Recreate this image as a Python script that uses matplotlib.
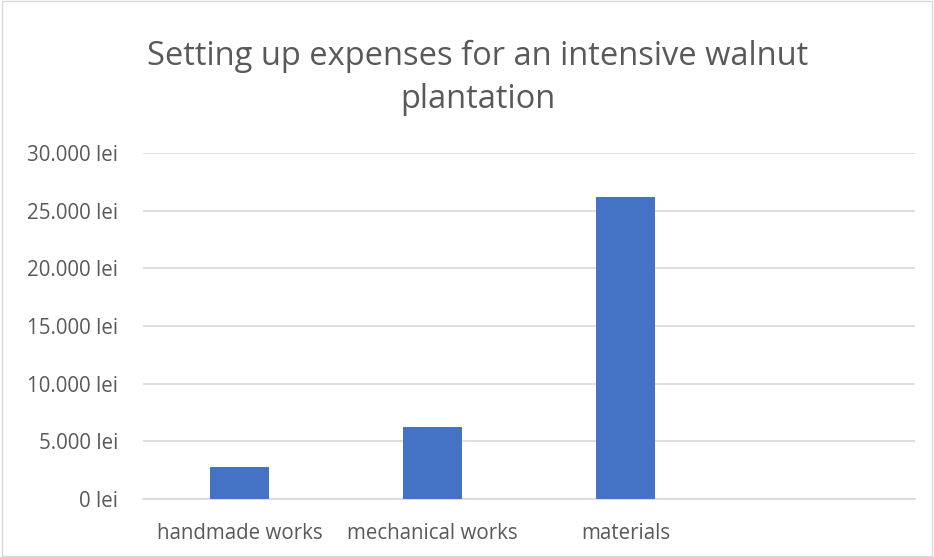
import numpy as np
import matplotlib
matplotlib.use('Agg')
import matplotlib.pyplot as plt
import matplotlib.ticker as ticker

categories = ['handmade works', 'mechanical works', 'materials', '']
expenses = [2800, 6250, 26200, 0]
y_ticks = [0, 5000, 10000, 15000, 20000, 25000, 30000]

plt.rcParams['font.family'] = ['Open Sans', 'DejaVu Sans']

fig = plt.figure(figsize=(9.34, 5.57), dpi=100, facecolor='w')
ax = fig.add_axes([143 / 934, 1 - 499 / 557, (915 - 143) / 934, (499 - 153) / 557])

x = np.arange(len(categories))
bars = ax.bar(x[:3], expenses[:3], width=0.31, color='#4472C4', zorder=3)

ax.set_xlim(-0.5, len(categories) - 0.5)
ax.set_ylim(0, 30000)
ax.set_xticks(x)
ax.set_xticklabels(categories)
ax.set_yticks(y_ticks)
ax.yaxis.set_major_formatter(ticker.FuncFormatter(lambda v, p: f'{int(v):,} lei'.replace(',', '.')))

ax.grid(axis='y', color='#d9d9d9', linewidth=1.2, zorder=0)
for s in ['top', 'right', 'left']:
    ax.spines[s].set_visible(False)
ax.spines['bottom'].set_color('#d9d9d9')
ax.spines['bottom'].set_linewidth(1.2)
ax.tick_params(axis='both', length=0, colors='#595959', labelsize=14.8)
ax.tick_params(axis='x', pad=17)
ax.tick_params(axis='y', pad=18)

fig.text(478 / 934, 1 - 78 / 557, 'Setting up expenses for an intensive walnut\nplantation', ha='center', va='center',
         fontsize=23.5, color='#595959', linespacing=1.38)

border = plt.Rectangle((0.002, 0.002), 0.996, 0.996, transform=fig.transFigure, fill=False,
                       edgecolor='#d9d9d9', linewidth=1.0)
fig.patches.append(border)

fig.savefig('out.png', dpi=100)
